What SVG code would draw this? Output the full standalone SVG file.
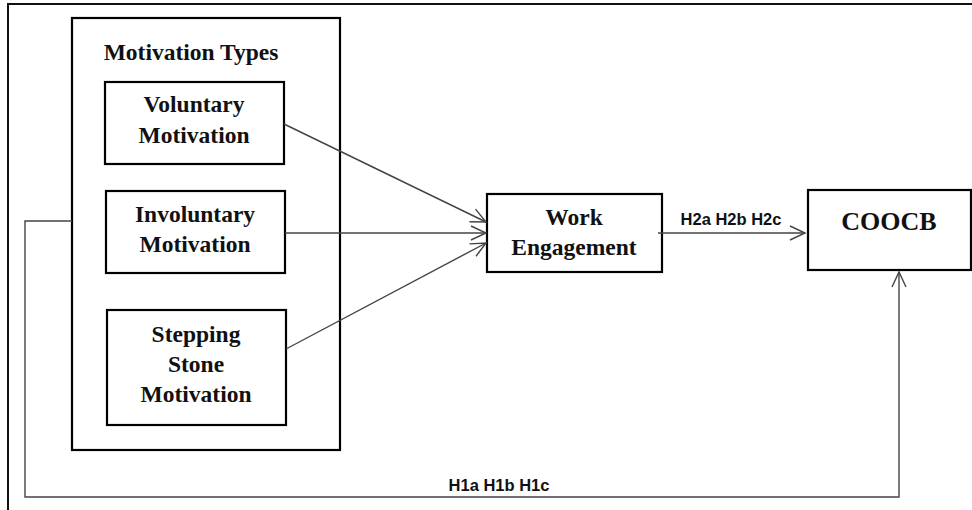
<svg xmlns="http://www.w3.org/2000/svg" width="972" height="510" viewBox="0 0 972 510">
<style>
.box{fill:#fff;stroke:#000;stroke-width:2.2}
.frame{fill:none;stroke:#111;stroke-width:2}
.t{font-family:"Liberation Serif","Times New Roman",serif;font-weight:bold;font-size:23.5px;fill:#111;text-anchor:middle}
.big{font-size:26px}
.h{font-family:"Liberation Sans",Arial,sans-serif;font-weight:bold;font-size:16.5px;fill:#111;text-anchor:middle}
.c{fill:none;stroke:#444;stroke-width:1.4}
</style>
<defs>
<marker id="arr" markerUnits="userSpaceOnUse" markerWidth="20" markerHeight="20" refX="0" refY="0" viewBox="-16 -10 20 20" orient="auto">
<path d="M-15,-7 L0,0 L-15,7" fill="none" stroke="#444" stroke-width="1.4"/>
</marker>
</defs>
<rect x="0" y="0" width="972" height="510" fill="#fff"/>
<rect id="outer-frame" class="frame" x="8" y="4" width="1000" height="540"/>
<g id="motivation-types">
<rect class="box" x="72" y="18" width="268" height="432"/>
<text class="t" x="191" y="60">Motivation Types</text>
</g>
<g id="voluntary">
<rect class="box" x="105" y="82" width="179" height="82"/>
<text class="t" x="194" y="112">Voluntary</text>
<text class="t" x="194" y="143">Motivation</text>
</g>
<g id="involuntary">
<rect class="box" x="106" y="191" width="179" height="82"/>
<text class="t" x="195" y="222">Involuntary</text>
<text class="t" x="195" y="252">Motivation</text>
</g>
<g id="stepping-stone">
<rect class="box" x="107" y="310" width="179" height="115"/>
<text class="t" x="196" y="342">Stepping</text>
<text class="t" x="196" y="372">Stone</text>
<text class="t" x="196" y="402">Motivation</text>
</g>
<g id="work-engagement">
<rect class="box" x="487" y="194" width="175" height="78"/>
<text class="t" x="574" y="225">Work</text>
<text class="t" x="574" y="255">Engagement</text>
</g>
<g id="coocb">
<rect class="box" x="808" y="190" width="163" height="80"/>
<text class="t big" x="889" y="230">COOCB</text>
</g>
<g id="connectors">
<line class="c" x1="284" y1="124" x2="486" y2="222" marker-end="url(#arr)"/>
<line class="c" x1="285" y1="233" x2="486" y2="233" marker-end="url(#arr)"/>
<line class="c" x1="286" y1="349" x2="486" y2="243" marker-end="url(#arr)"/>
<line class="c" x1="658" y1="233" x2="805" y2="233" marker-end="url(#arr)"/>
<polyline class="c" points="72,221 25,221 25,497 899,497 899,272" marker-end="url(#arr)"/>
<text class="h" x="731" y="225">H2a H2b H2c</text>
<text class="h" x="499" y="491">H1a H1b H1c</text>
</g>
</svg>
